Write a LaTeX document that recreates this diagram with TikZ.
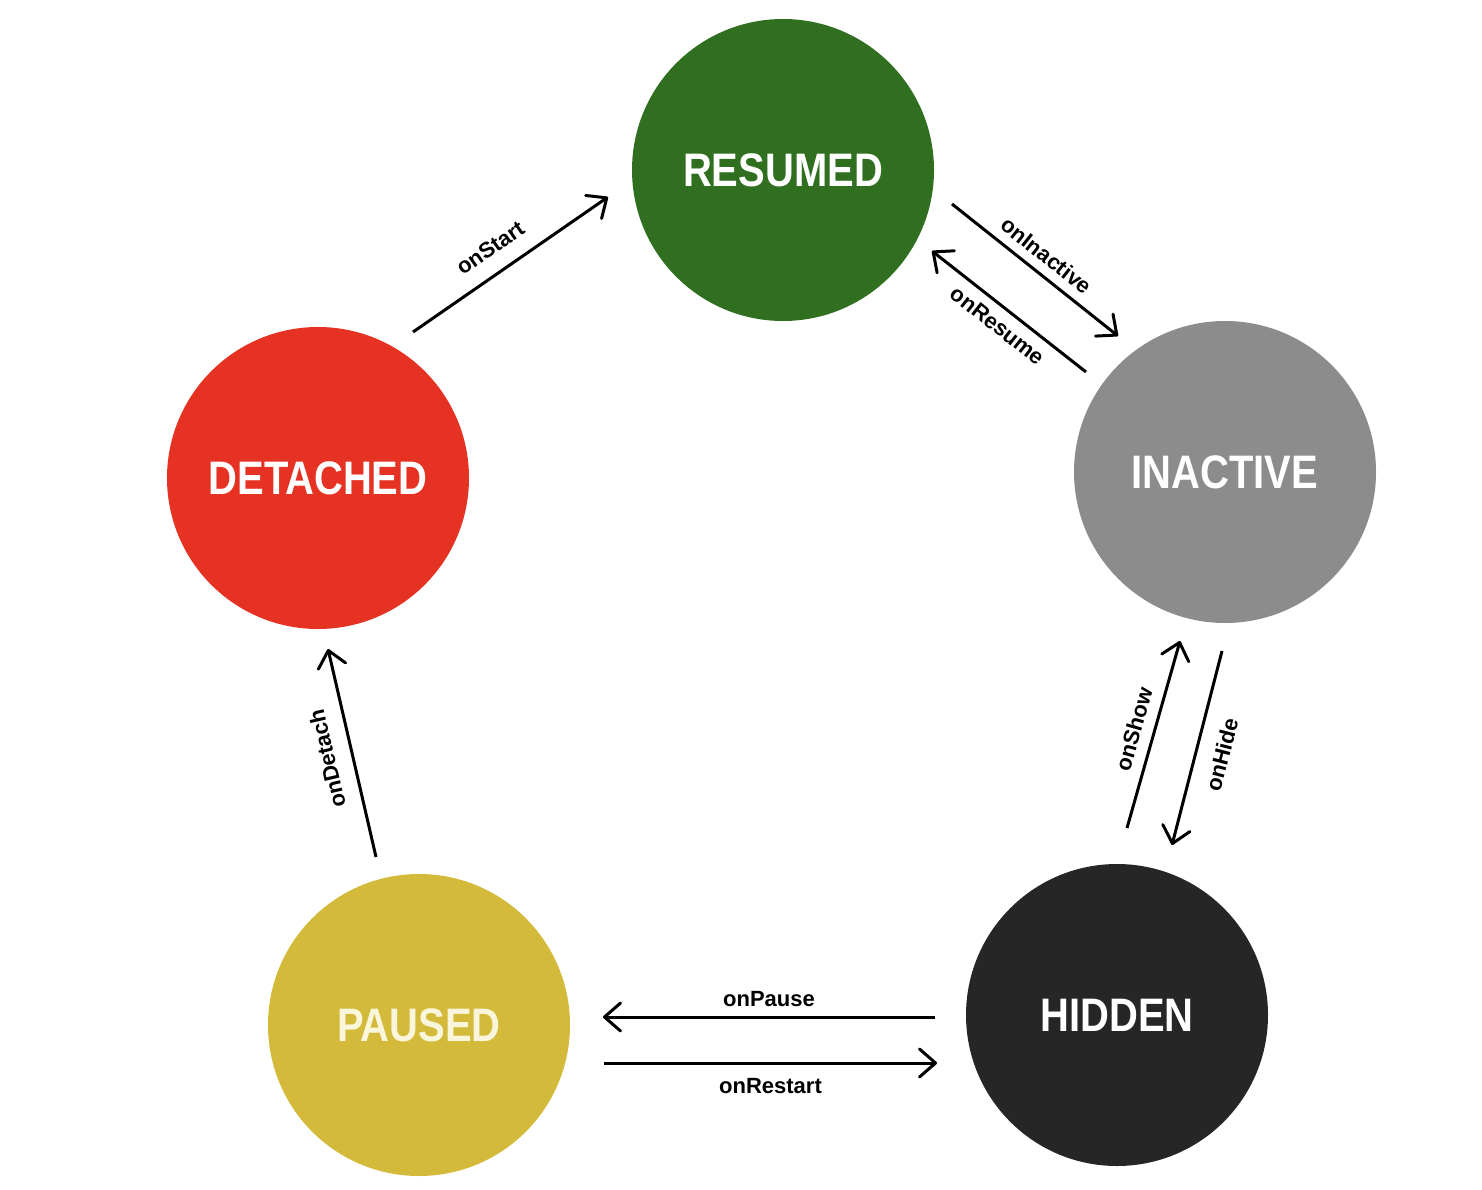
\documentclass[tikz,border=0pt]{standalone}
\usepackage{fontspec}
\setmainfont{Liberation Sans}
\newfontfamily\statefont{Liberation Sans}[FakeStretch=0.85]
\usetikzlibrary{arrows.meta,calc}
\definecolor{cresumed}{RGB}{47,111,31}
\definecolor{cinactive}{RGB}{140,140,140}
\definecolor{chidden}{RGB}{38,38,38}
\definecolor{cpaused}{RGB}{211,186,58}
\definecolor{cdetached}{RGB}{230,50,35}
\definecolor{cpausedtext}{RGB}{250,246,220}
\tikzset{
  state/.style={circle, minimum size=302pt, inner sep=0pt, text=white,
    font=\statefont\bfseries\fontsize{47}{47}\selectfont},
  arr/.style={line width=3pt, -{Straight Barb[length=16pt,width=28pt,line join=round,line cap=round]}},
  lbl/.style={font=\bfseries\fontsize{22}{22}\selectfont, inner sep=3pt, sloped}
}
\begin{document}
\begin{tikzpicture}[x=1pt,y=-1pt]
\useasboundingbox (0,0) rectangle (1482,1190);
\node[state, fill=cresumed] (resumed) at (783,170) {RESUMED};
\node[state, fill=cinactive] (inactive) at (1225,472) {INACTIVE};
\node[state, fill=chidden] (hidden) at (1117,1015) {HIDDEN};
\node[state, fill=cpaused, text=cpausedtext] (paused) at (419,1025) {PAUSED};
\node[state, fill=cdetached] (detached) at (318,478) {DETACHED};

\draw[arr] ($(detached)+(95,-146)$) -- node[lbl, pos=0.47, above=13pt] {onStart} ($(resumed)+(-175,27)$);
\draw[arr] ($(resumed)+(169,34)$) -- node[lbl, pos=0.5, above=6pt] {onInactive} ($(inactive)+(-107,-136)$);
\draw[arr] ($(inactive)+(-139,-100)$) -- node[lbl, pos=0.5, below=6pt] {onResume} ($(resumed)+(149,81)$);
\draw[arr] ($(hidden)+(10,-187)$) -- node[lbl, pos=0.5, above=8pt] {onShow} ($(inactive)+(-45,169)$);
\draw[arr] ($(inactive)+(-3,179)$) -- node[lbl, pos=0.5, below=13pt] {onHide} ($(hidden)+(55,-170)$);
\draw[arr] ($(hidden)+(-182,2)$) -- node[lbl, pos=0.5, above=6pt] {onPause} ($(paused)+(184,-8)$);
\draw[arr] ($(paused)+(185,38)$) -- node[lbl, pos=0.5, below=11pt] {onRestart} ($(hidden)+(-180,48)$);
\draw[arr] ($(paused)+(-43,-168)$) -- node[lbl, allow upside down, pos=0.5, above=13pt] {onDetach} ($(detached)+(10,171)$);
\end{tikzpicture}
\end{document}
